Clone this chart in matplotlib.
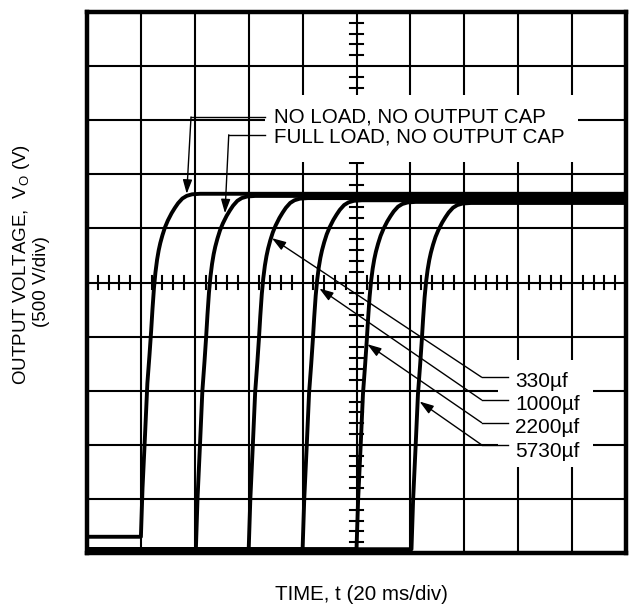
import numpy as np
import matplotlib
matplotlib.use("Agg")
import matplotlib.pyplot as plt
from matplotlib.patches import Rectangle

plt.rcParams['font.family'] = ['Liberation Sans', 'DejaVu Sans']

# scope screen, 10 x 10 divisions
# rise profile read off trace 1 (x offset from start in div, y in div)
rise_dx = [0.0, 0.03, 0.076, 0.12, 0.16, 0.19, 0.215, 0.243, 0.27, 0.30, 0.33, 0.36,
           0.40, 0.447, 0.50, 0.57, 0.63, 0.69, 0.77, 0.85, 0.95, 1.1]
rise_y = [0.07, 1.0, 2.0, 3.0, 3.55, 4.0, 4.42, 4.83, 5.12, 5.36, 5.54, 5.68,
          5.83, 5.98, 6.11, 6.25, 6.35, 6.44, 6.53, 6.58, 6.61, 6.62]

trace_start = [1.0, 2.02, 3.0, 4.0, 5.0, 6.02]
trace_base = [0.30, 0.07, 0.07, 0.07, 0.07, 0.07]
trace_top = [6.64, 6.60, 6.56, 6.52, 6.49, 6.47]

top_labels = ["NO LOAD, NO OUTPUT CAP", "FULL LOAD, NO OUTPUT CAP"]
cap_labels = ["330\u00b5f", "1000\u00b5f", "2200\u00b5f", "5730\u00b5f"]

fig = plt.figure(figsize=(6.36, 6.08), dpi=100)
ax = fig.add_axes([87 / 636, 1 - 553 / 608, 539 / 636, 541 / 608])
ax.set_xlim(0, 10)
ax.set_ylim(0, 10)
ax.set_xticks([])
ax.set_yticks([])
for s in ax.spines.values():
    s.set_linewidth(3.2)
    s.set_zorder(10)

# graticule
for i in range(1, 10):
    ax.axvline(i, color='black', lw=1.5, zorder=1)
    ax.axhline(i, color='black', lw=1.5, zorder=1)
for t in np.arange(0.2, 10, 0.2):
    if abs(t - round(t)) < 0.01:
        continue
    ax.plot([t, t], [4.88, 5.12], color='black', lw=1.5, zorder=1)
    ax.plot([4.88, 5.12], [t, t], color='black', lw=1.5, zorder=1)

# white boxes behind the labels
ax.add_patch(Rectangle((3.30, 7.22), 5.81, 1.25, facecolor='white', edgecolor='none', zorder=2))
ax.add_patch(Rectangle((7.63, 1.59), 1.76, 1.98, facecolor='white', edgecolor='none', zorder=2))

# traces
for x0, b, top in zip(trace_start, trace_base, trace_top):
    dx = np.array(rise_dx)
    yy = b + (np.array(rise_y) - rise_y[0]) / (rise_y[-1] - rise_y[0]) * (top - b)
    xs = np.concatenate([[0.0], x0 + dx, [10.0]])
    ys = np.concatenate([[b], yy, [top]])
    ax.plot(xs, ys, color='black', lw=2.8, solid_joinstyle='round', zorder=3)

arrow = dict(arrowstyle='-|>,head_length=0.6,head_width=0.2', color='black',
             lw=1.0, shrinkA=0, shrinkB=0, mutation_scale=14)

# upper labels with leaders
ax.text(3.47, 8.06, top_labels[0], fontsize=14.8, va='center', ha='left', zorder=5)
ax.text(3.47, 7.69, top_labels[1], fontsize=14.8, va='center', ha='left', zorder=5)
ax.plot([3.30, 1.93], [8.06, 8.06], color='black', lw=1.0, zorder=4)
ax.annotate('', xy=(1.85, 6.64), xytext=(1.93, 8.06), arrowprops=arrow, zorder=4)
ax.plot([3.30, 2.63], [7.73, 7.73], color='black', lw=1.0, zorder=4)
ax.annotate('', xy=(2.56, 6.28), xytext=(2.63, 7.73), arrowprops=arrow, zorder=4)

# capacitor labels with leaders
lab_y = [3.17, 2.74, 2.32, 1.87]
lead_y = [3.25, 2.83, 2.41, 2.00]
tips = [(3.43, 5.82), (4.31, 4.89), (5.20, 3.86), (6.17, 2.80)]
for lab, ly, ldy, tip in zip(cap_labels, lab_y, lead_y, tips):
    ax.text(7.94, ly, lab, fontsize=15, va='center', ha='left', zorder=5)
    ax.plot([7.81, 7.32], [ldy, ldy], color='black', lw=1.0, zorder=4)
    ax.annotate('', xy=tip, xytext=(7.32, ldy), arrowprops=arrow, zorder=4)

# axis titles
fig.text(21.7 / 636, 1 - 264 / 608, "OUTPUT VOLTAGE,  V$_\\mathregular{O}$ (V)", rotation=90,
         fontsize=13.5, ha='center', va='center')
fig.text(41 / 636, 1 - 282 / 608, "(500 V/div)", rotation=90,
         fontsize=13.5, ha='center', va='center')
fig.text(361.5 / 636, 1 - 595 / 608, "TIME, t (20 ms/div)", fontsize=14.8,
         ha='center', va='center')

fig.savefig("out.png", dpi=100)
